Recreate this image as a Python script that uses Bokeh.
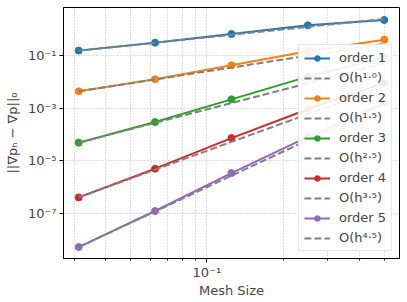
from bokeh.plotting import figure
from bokeh.models import Range1d, FixedTicker, Legend, LegendItem
from bokeh.embed import file_html
from bokeh.resources import INLINE

# Data
h = [1/32, 1/16, 1/8, 1/4, 1/2]
err1 = [0.151, 0.303, 0.644, 1.38, 2.19]
err2 = [4.3e-3, 0.0123, 0.0417, 0.143, 0.394]
err3 = [4.83e-5, 2.93e-4, 2.13e-3, 0.0155, 0.085]
err4 = [4.05e-7, 4.97e-6, 7.2e-5, 9.0e-4, 9.0e-3]
err5 = [5.25e-9, 1.23e-7, 3.38e-6, 8.04e-5, 1.6e-3]

ref1 = [0.151, 0.302, 0.604, 1.208, 2.416]
ref2 = [4.3e-3, 1.216e-2, 3.44e-2, 9.73e-2, 0.275]
ref3 = [4.83e-5, 2.732e-4, 1.546e-3, 8.743e-3, 4.946e-2]
ref4 = [4.05e-7, 4.58e-6, 5.18e-5, 5.865e-4, 6.636e-3]
ref5 = [5.25e-9, 1.188e-7, 2.688e-6, 6.082e-5, 1.376e-3]

order_labels = ["order 1", "order 2", "order 3", "order 4", "order 5"]
ref_labels = ["O(h¹·⁰)", "O(h¹·⁵)", "O(h²·⁵)", "O(h³·⁵)", "O(h⁴·⁵)"]
colors = ["#1f77b4", "#ff7f0e", "#2ca02c", "#d62728", "#9467bd"]

x_ticks = [0.1]
x_tick_labels = ["10⁻¹"]
x_minor = [0.03, 0.04, 0.05, 0.06, 0.07, 0.08, 0.09, 0.2, 0.3, 0.4, 0.5]
y_ticks = [1e-7, 1e-5, 1e-3, 1e-1]
y_tick_labels = ["10⁻⁷", "10⁻⁵", "10⁻³", "10⁻¹"]

errs = [err1, err2, err3, err4, err5]
refs = [ref1, ref2, ref3, ref4, ref5]

p = figure(width=404, height=300, x_axis_type="log", y_axis_type="log",
           x_range=Range1d(10**-1.565, 10**-0.241),
           y_range=Range1d(10**-8.713, 10**0.816),
           output_backend="svg", toolbar_location=None,
           min_border_left=63, min_border_right=5, min_border_top=7,
           min_border_bottom=42)

p.outline_line_color = "black"
p.outline_line_width = 1
p.background_fill_color = "white"

items = []
for e, r, c, ol, rl in zip(errs, refs, colors, order_labels, ref_labels):
    lr = p.line(h, e, line_color=c, line_width=2)
    sr = p.scatter(h, e, size=7, fill_color=c, line_color=c)
    dr = p.line(h, r, line_color="#808080", line_width=2, line_dash="7 3")
    items.append(LegendItem(label=ol, renderers=[lr, sr]))
    items.append(LegendItem(label=rl, renderers=[dr]))

legend = Legend(items=items, location="bottom_right")
legend.margin = 7
legend.padding = 5
legend.spacing = 5
legend.label_height = 14
legend.glyph_height = 14
legend.glyph_width = 26
legend.label_standoff = 9
legend.label_text_font = "DejaVu Sans"
legend.label_text_font_size = "13px"
legend.border_line_color = "#cccccc"
legend.border_line_width = 1
legend.background_fill_alpha = 0.9
p.add_layout(legend)

# Axes
xa = p.xaxis[0]
xa.ticker = FixedTicker(ticks=x_ticks, minor_ticks=x_minor)
xa.major_label_overrides = dict(zip(x_ticks, x_tick_labels))
ya = p.yaxis[0]
ya.ticker = FixedTicker(ticks=y_ticks, minor_ticks=[])
ya.major_label_overrides = dict(zip(y_ticks, y_tick_labels))

for ax in (xa, ya):
    ax.major_tick_in = 0
    ax.major_tick_out = 4
    ax.minor_tick_in = 0
    ax.minor_tick_out = 2
    ax.major_label_text_font = "DejaVu Sans"
    ax.major_label_text_font_size = "13px"
    ax.axis_label_text_font = "DejaVu Sans"
    ax.axis_label_text_font_size = "13px"
    ax.axis_label_text_font_style = "normal"
    ax.axis_line_color = "black"
    ax.major_tick_line_color = "black"
    ax.minor_tick_line_color = "black"

xa.major_label_standoff = 2
xa.axis_label_standoff = 0
ya.major_label_standoff = 3
ya.axis_label_standoff = 5

xa.axis_label = "Mesh Size"
ya.axis_label = "||∇pₕ − ∇p||₀"

for g in (p.xgrid[0], p.ygrid[0]):
    g.grid_line_color = "#b0b0b0"
    g.grid_line_dash = "1 2"
    g.grid_line_width = 0.8
p.xgrid[0].ticker = xa.ticker
p.ygrid[0].ticker = ya.ticker
p.xgrid[0].minor_grid_line_color = "#b0b0b0"
p.xgrid[0].minor_grid_line_dash = "1 2"
p.xgrid[0].minor_grid_line_width = 0.8

open("out.html", "w").write(file_html(p, INLINE))
